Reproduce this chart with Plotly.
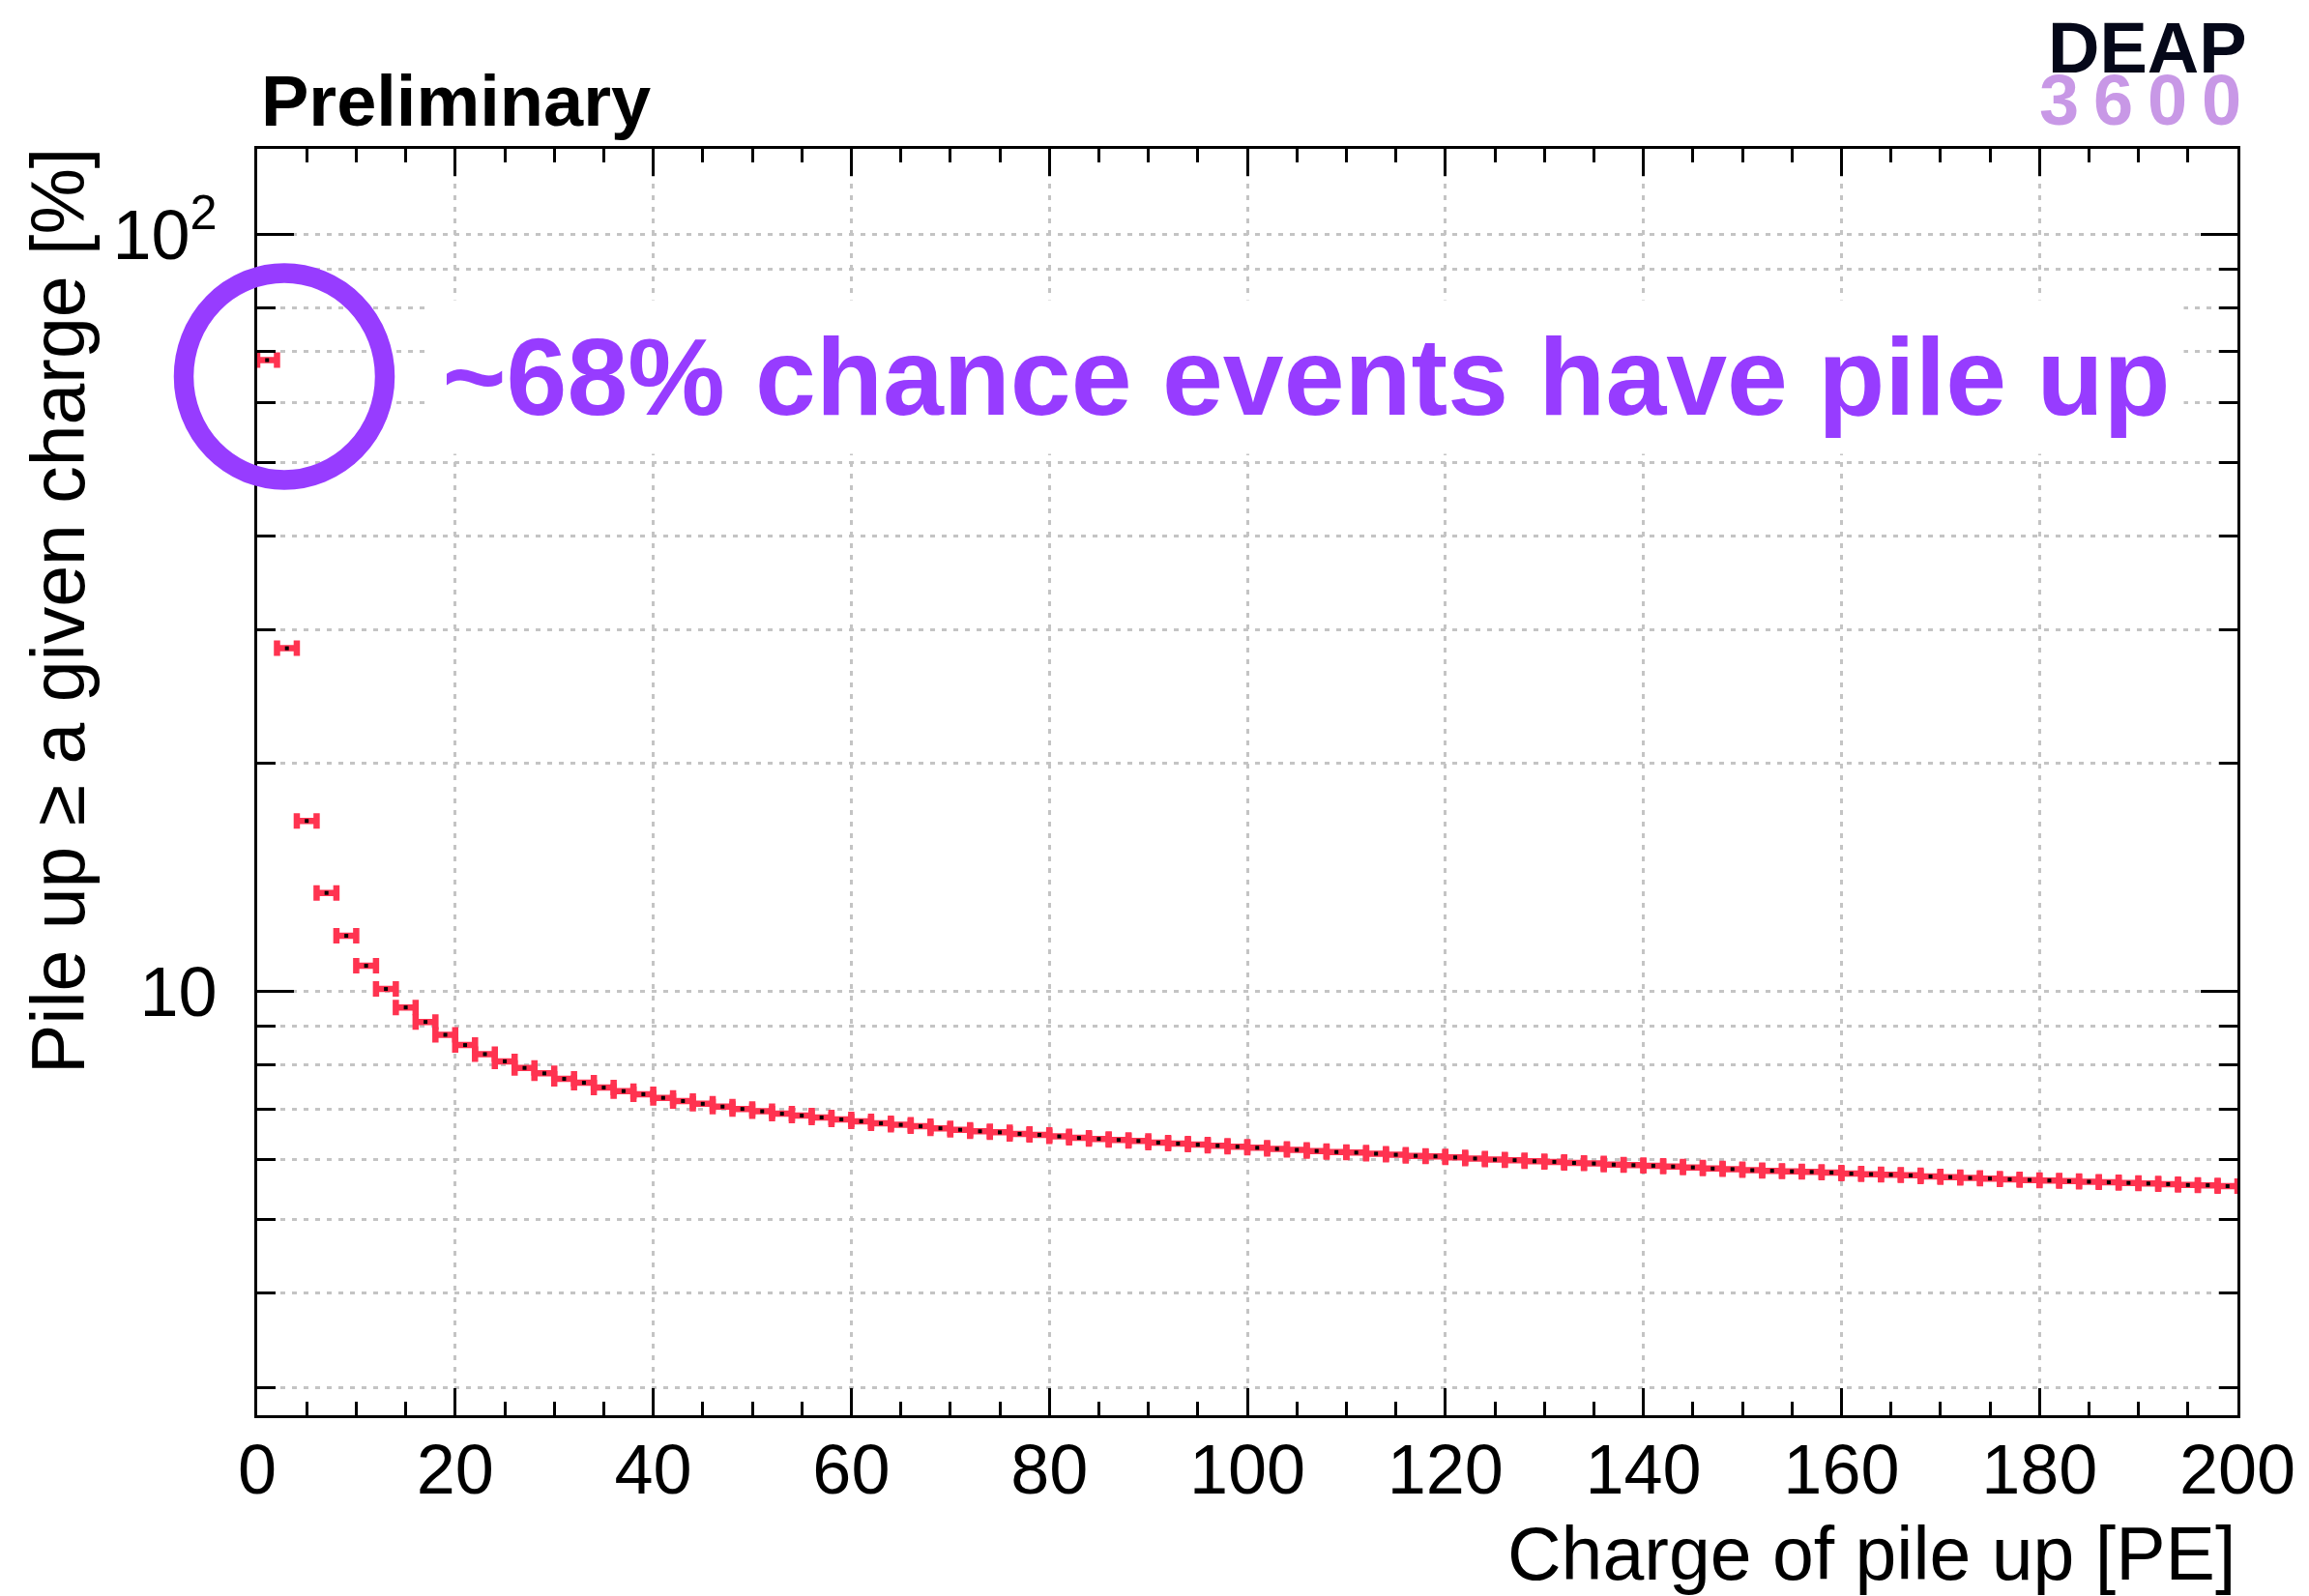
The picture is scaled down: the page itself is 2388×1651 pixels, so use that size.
import plotly.graph_objects as go

# ---------------- data ----------------
bin_centers = list(range(1, 200, 2))          # charge bins [PE], width 2
bin_half_width = [1] * len(bin_centers)
pileup_pct = [
    68.2, 28.4, 16.8, 13.5, 11.85, 10.82, 10.08, 9.53, 9.12, 8.77,
    8.50, 8.27, 8.09, 7.93, 7.80, 7.67, 7.58, 7.47, 7.39, 7.32,
    7.24, 7.17, 7.11, 7.05, 7.00, 6.95, 6.90, 6.86, 6.82, 6.78,
    6.74, 6.70, 6.67, 6.64, 6.60, 6.57, 6.54, 6.52, 6.49, 6.47,
    6.44, 6.41, 6.39, 6.37, 6.35, 6.32, 6.30, 6.28, 6.26, 6.24,
    6.22, 6.20, 6.18, 6.16, 6.14, 6.13, 6.11, 6.09, 6.07, 6.06,
    6.04, 6.02, 6.00, 5.99, 5.97, 5.96, 5.94, 5.93, 5.91, 5.90,
    5.89, 5.875, 5.86, 5.84, 5.83, 5.81, 5.80, 5.79, 5.78, 5.77,
    5.75, 5.74, 5.73, 5.72, 5.70, 5.69, 5.675, 5.665, 5.65, 5.64,
    5.63, 5.62, 5.61, 5.60, 5.59, 5.58, 5.57, 5.555, 5.55, 5.535,
]

x_tick_vals = [0, 20, 40, 60, 80, 100, 120, 140, 160, 180, 200]
x_tick_text = [str(v) for v in x_tick_vals]
y_tick_vals = [10, 100]
y_tick_text = ["10", "10<sup>2</sup>"]
y_minor_vals = [3, 4, 5, 6, 7, 8, 9, 20, 30, 40, 50, 60, 70, 80, 90]

x_title = "Charge of pile up [PE]"
y_title = "Pile up ≥ a given charge [%]"
note_text = "~68% chance events have pile up"
prelim_text = "Preliminary"
logo_top = "DEAP"
logo_bottom = "3\u20096\u20090\u20090"

# ---------------- style ----------------
FONT = "Liberation Sans, Arial, Helvetica, sans-serif"
RED = "#FF3350"
PURPLE = "#973CFF"
GRID = "#C4C4C4"
GRID_DASH = "5px,7px"

W, H = 2388, 1651
L, R, T, B = 266, 74, 154, 187
PW, PH = W - L - R, H - T - B


def px(xp):
    return (xp - L) / PW


def py(yp):
    return (H - B - yp) / PH


fig = go.Figure()
fig.add_trace(go.Scatter(
    x=bin_centers, y=pileup_pct, mode="markers",
    marker=dict(symbol="square", size=4, color="black"),
    error_x=dict(type="data", array=bin_half_width, symmetric=True,
                 color=RED, thickness=6.5, width=8),
    hoverinfo="x+y",
))

axis_common = dict(
    showline=True, linewidth=3, linecolor="black", mirror="ticks",
    ticks="inside", tickwidth=3, tickcolor="black",
    showgrid=True, gridcolor=GRID, gridwidth=3, griddash=GRID_DASH,
    zeroline=False,
    tickfont=dict(family=FONT, size=72, color="black"),
)

fig.update_layout(
    width=W, height=H,
    margin=dict(l=L, r=R, t=T, b=B),
    plot_bgcolor="white", paper_bgcolor="white",
    showlegend=False,
    font=dict(family=FONT, color="black"),
    xaxis=dict(
        range=[0, 200], tickmode="array", tickvals=x_tick_vals, ticktext=x_tick_text,
        ticklen=28, ticklabelstandoff=-8,
        minor=dict(dtick=5, tick0=0, ticks="inside", ticklen=14, tickwidth=3,
                   tickcolor="black", showgrid=False),
        **axis_common,
    ),
    yaxis=dict(
        type="log", range=[0.4407, 2.1127], tickmode="array",
        tickvals=y_tick_vals, ticktext=y_tick_text,
        ticklen=38, ticklabelstandoff=24,
        minor=dict(tickmode="array", tickvals=y_minor_vals, ticks="inside", ticklen=19,
                   tickwidth=3, tickcolor="black", showgrid=True, gridcolor=GRID,
                   gridwidth=3, griddash=GRID_DASH),
        **axis_common,
    ),
)

annotations = [
    dict(xref="paper", yref="paper", x=px(1351), y=py(390), xanchor="center", yanchor="middle",
         text="<b>" + note_text + "</b>", showarrow=False,
         bgcolor="white", width=1812, height=156, align="center", valign="middle",
         font=dict(family=FONT, size=113, color=PURPLE)),
    dict(xref="paper", yref="paper", x=px(268), y=py(104), xanchor="left", yanchor="middle",
         text="<b>" + prelim_text + "</b>", showarrow=False,
         font=dict(family=FONT, size=74, color="black")),
    dict(xref="paper", yref="paper", x=px(2326), y=py(50), xanchor="right", yanchor="middle",
         text="<b>" + logo_top + "</b>", showarrow=False,
         font=dict(family=FONT, size=74, color="#050819")),
    dict(xref="paper", yref="paper", x=px(2320), y=py(103), xanchor="right", yanchor="middle",
         text="<b>" + logo_bottom + "</b>", showarrow=False,
         font=dict(family=FONT, size=74, color="#C898E6")),
    dict(xref="paper", yref="paper", x=px(2314), y=py(1607), xanchor="right", yanchor="middle",
         text=x_title, showarrow=False,
         font=dict(family=FONT, size=77, color="black")),
    dict(xref="paper", yref="paper", x=px(60), y=py(632), xanchor="center", yanchor="middle",
         text=y_title, textangle=-90, showarrow=False,
         font=dict(family=FONT, size=77, color="black")),
]
fig.update_layout(annotations=annotations)

fig.add_shape(type="circle", xref="paper", yref="paper",
              x0=px(190), x1=px(398), y0=py(496.5), y1=py(282.5),
              line=dict(color=PURPLE, width=20.5))

fig.write_html("out.html")
